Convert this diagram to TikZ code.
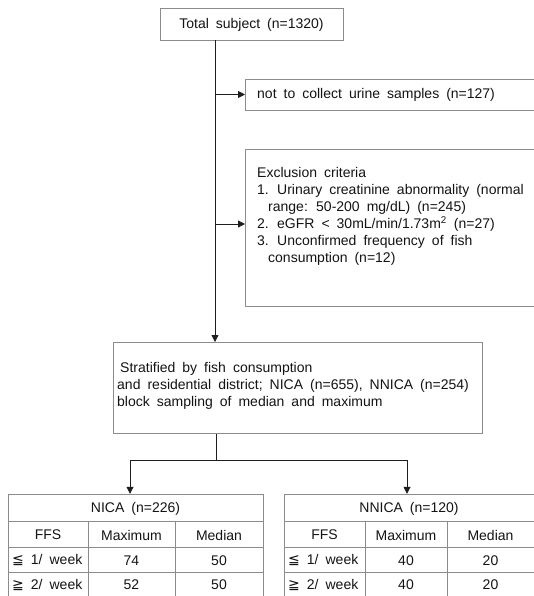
\documentclass[tikz,border=0pt]{standalone}
\usepackage{fontspec}
\setmainfont{Liberation Sans}[WordSpace=1.8]
\newfontfamily\symf{DejaVu Sans}
\usetikzlibrary{arrows.meta}
\definecolor{boxgray}{RGB}{140,140,140}
\definecolor{arrowc}{RGB}{30,30,30}
\definecolor{txtc}{RGB}{20,20,20}
\begin{document}
\begin{tikzpicture}[x=1pt,y=-1pt,
  box/.style={draw=boxgray, line width=0.9pt, inner sep=0pt},
  arr/.style={draw=arrowc, line width=0.8pt, -{Triangle[length=7pt,width=7pt]}},
  ln/.style={draw=arrowc, line width=0.8pt},
  grid/.style={draw=boxgray, line width=0.9pt},
  txt/.style={inner sep=0pt, text=txtc, font=\fontsize{14}{17}\selectfont},
  lt/.style={txt, anchor=west, align=left}]
\clip (0,0) rectangle (534,596);
\fill[white] (0,0) rectangle (534,596);
% boxes
\node[box, minimum width=183pt, minimum height=32pt] (total) at (251.5,24) {};
\node[txt] (totaltxt) at (251.5,25) {Total subject (n=1320)};
\node[box, anchor=west, minimum width=300pt, minimum height=31pt] (nocol) at (245,94.5) {};
\node[lt] (nocoltxt) at (257,95) {not to collect urine samples (n=127)};
\node[box, anchor=north west, minimum width=300pt, minimum height=157pt] (excl) at (245,149) {};
\node[lt, anchor=north west] (excltxt) at (257,167.5) {Exclusion criteria\\
1. Urinary creatinine abnormality (normal\\
\hspace*{11pt}range: 50-200 mg/dL) (n=245)\\
2. eGFR < 30mL/min/1.73m\textsuperscript{2} (n=27)\\
3. Unconfirmed frequency of fish\\
\hspace*{11pt}consumption (n=12)};
\node[box, anchor=north west, minimum width=369pt, minimum height=91pt] (strat) at (113,342) {};
\node[lt, anchor=north west] (strattxt) at (117,362.5) {\hspace*{3pt}Stratified by fish consumption\\
and residential district; NICA (n=655), NNICA (n=254)\\
block sampling of median and maximum};
% connectors
\coordinate (m1) at (215,0);
\draw[arr] (total.south -| m1) -- (strat.north -| m1);
\draw[arr] (m1 |- nocol.west) -- (nocol.west);
\coordinate (m2) at (215,224);
\draw[arr] (m2) -- (m2 -| excl.west);
\coordinate (split) at (216,460);
\coordinate (sl) at (130,460);
\coordinate (sr) at (407,460);
\draw[ln] (strat.south -| split) -- (split);
\draw[ln] (sl) -- (sr);
% tables
\node[inner sep=0pt, minimum width=255pt, minimum height=27pt] (nica) at (135.5,507.5) {};
\node[inner sep=0pt, minimum width=260pt, minimum height=27pt] (nnica) at (414,507.5) {};
\draw[arr] (sl) -- (sl |- nica.north);
\draw[arr] (sr) -- (sr |- nnica.north);
% left table grid
\draw[grid] (8,600) -- (8,494) -- (263,494) -- (263,600);
\draw[grid] (8,521) -- (263,521);
\draw[grid] (8,547) -- (263,547);
\draw[grid] (8,572) -- (263,572);
\draw[grid] (88,521) -- (88,600);
\draw[grid] (175,521) -- (175,600);
% right table grid
\draw[grid] (284,600) -- (284,494) -- (540,494);
\draw[grid] (284,521) -- (540,521);
\draw[grid] (284,547) -- (540,547);
\draw[grid] (284,572) -- (540,572);
\draw[grid] (365,521) -- (365,600);
\draw[grid] (447,521) -- (447,600);
% table texts
\node[txt] (h1) at (135.5,508.5) {NICA (n=226)};
\node[txt] (a1) at (48,535) {FFS};
\node[txt] (b1) at (131.5,535) {Maximum};
\node[txt] (c1) at (219,535) {Median};
\node[lt] (d1) at (12,560.5) {{\symf ≦} 1/ week};
\node[txt] (e1) at (131.5,560.5) {74};
\node[txt] (f1) at (219,560.5) {50};
\node[lt] (g1) at (12,585) {{\symf ≧} 2/ week};
\node[txt] (i1) at (131.5,585) {52};
\node[txt] (j1) at (219,585) {50};
\node[txt] (h2) at (409,508.5) {NNICA (n=120)};
\node[txt] (a2) at (324.5,535) {FFS};
\node[txt] (b2) at (406,535) {Maximum};
\node[txt] (c2) at (490.5,535) {Median};
\node[lt] (d2) at (288,560.5) {{\symf ≦} 1/ week};
\node[txt] (e2) at (406,560.5) {40};
\node[txt] (f2) at (490.5,560.5) {20};
\node[lt] (g2) at (288,585) {{\symf ≧} 2/ week};
\node[txt] (i2) at (406,585) {40};
\node[txt] (j2) at (490.5,585) {20};
\end{tikzpicture}
\end{document}
